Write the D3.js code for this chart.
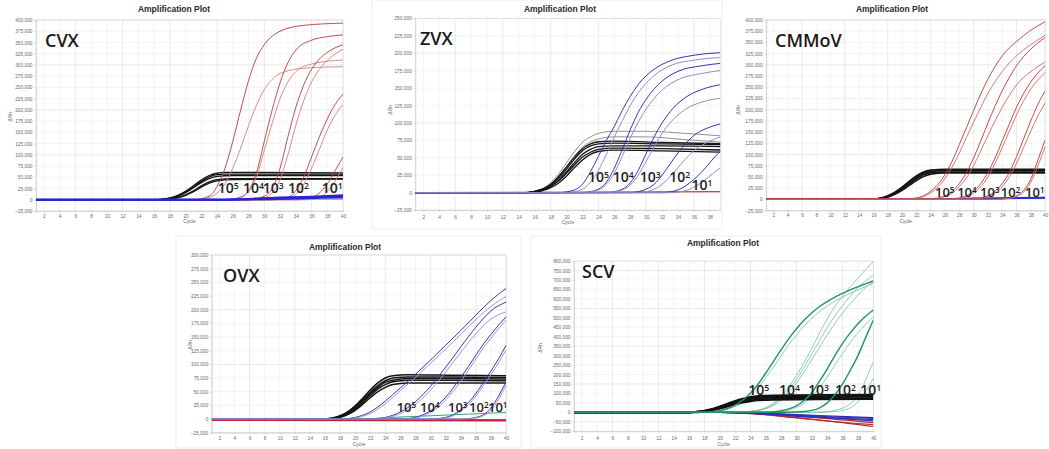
<!DOCTYPE html>
<html><head><meta charset="utf-8">
<script src="https://cdn.jsdelivr.net/npm/d3@7"></script>
<style>body{margin:0;background:#fff} svg{display:block}</style>
</head><body><svg id="c" width="1049" height="449"></svg>
<script>
// ---------------- DATA (ΔRn in thousands, by cycle) ----------------
const cycleTicks = [2,4,6,8,10,12,14,16,18,20,22,24,26,28,30,32,34,36,38,40];

// CVX
const cvxBlack = [
 [[1,0],[16,0],[17,1],[18,4],[19,10],[20,19],[21,31],[22,44],[23,54],[24,59],[25,61],[27,61],[40,60]],
 [[1,0],[16,0],[17,1],[18,3],[19,8],[20,17],[21,28],[22,41],[23,51],[24,56],[25,57],[27,57],[40,57]],
 [[1,0],[16,0],[17,1],[18,3],[19,8],[20,16],[21,27],[22,38],[23,47],[24,52],[26,54],[40,54]],
 [[1,0],[17,0],[18,2],[19,5],[20,11],[21,20],[22,31],[23,40],[24,45],[26,47],[40,47]],
 [[1,0],[17,0],[18,2],[19,5],[20,10],[21,18],[22,28],[23,37],[24,42],[26,45],[40,46]]
];
const cvxRed = [
 [[1,0],[21,0],[23,8],[24,30],[25,70],[26,130],[27,200],[28,265],[29,315],[30,345],[32,375],[35,388],[40,393]],
 [[1,0],[21,0],[23,5],[24,15],[25,35],[26,70],[27,115],[28,165],[29,210],[30,245],[31,268],[33,287],[36,294],[40,296]],
 [[1,0],[25,0],[27,6],[28,20],[29,60],[30,130],[31,200],[32,260],[33,305],[34,333],[36,355],[38,363],[40,367]],
 [[1,0],[25,0],[27,5],[28,18],[29,50],[30,110],[31,170],[32,225],[33,262],[34,285],[36,302],[40,311]],
 [[1,0],[28,0],[30,8],[31,25],[32,70],[33,140],[34,205],[35,255],[36,290],[37,313],[38,328],[40,345]],
 [[1,0],[28,0],[30,5],[31,15],[32,45],[33,100],[34,165],[35,220],[36,262],[37,290],[38,310],[40,335]],
 [[1,0],[31,0],[33,5],[34,20],[35,50],[36,95],[37,140],[38,180],[39,212],[40,235]],
 [[1,0],[31,0],[33,3],[34,12],[35,35],[36,70],[37,112],[38,155],[39,188],[40,212]],
 [[1,0],[34,0],[36,5],[37,15],[38,35],[39,65],[40,95]],
 [[1,0],[35,0],[37,5],[38,18],[39,42],[40,72]]
];
const cvxBlue = [
 [[1,0],[24,0],[28,2],[32,4],[36,6],[40,8]],
 [[1,0],[24,0],[28,2],[32,5],[36,7],[40,10]],
 [[1,0],[26,0],[30,1],[35,3],[40,5]]
];
const cvxLabels = [[24.1,15,"5"],[27.3,15,"4"],[29.8,15,"3"],[33.0,15,"2"],[37.3,15,"1"]];

// ZVX
const zvxBlack = [
 [[1,0],[15,0],[16,2],[17,5],[18,11],[19,21],[20,34],[21,48],[22,60],[23,67],[24,70],[26,71],[32,70],[40,69]],
 [[1,0],[15,0],[16,1],[17,4],[18,9],[19,18],[20,30],[21,43],[22,55],[23,62],[24,66],[26,67],[32,67],[40,66]],
 [[1,0],[15,0],[16,1],[17,4],[18,9],[19,17],[20,28],[21,40],[22,51],[23,58],[24,62],[26,64],[32,63],[40,61]],
 [[1,0],[16,0],[17,3],[18,7],[19,14],[20,24],[21,36],[22,47],[23,55],[24,59],[26,61],[32,60],[40,58]],
 [[1,0],[15,0],[16,2],[17,5],[18,12],[19,23],[20,37],[21,51],[22,63],[23,70],[24,73],[26,74],[32,72],[40,70]]
];
const zvxGray = [
 [[1,0],[15,0],[16,2],[17,6],[18,14],[19,27],[20,43],[21,59],[22,72],[23,80],[24,85],[26,88],[30,88],[35,85],[40,81]],
 [[1,0],[15,0],[16,2],[17,5],[18,12],[19,24],[20,38],[21,53],[22,65],[23,73],[24,77],[26,80],[30,80],[35,76],[40,72]]
];
const zvxBlue = [
 [[1,0],[19,0],[21,4],[22,12],[23,30],[24,52],[25,75],[26,95],[27,118],[28,138],[29,155],[31,177],[33,189],[36,197],[40,201]],
 [[1,0],[20,0],[22,5],[23,15],[24,32],[25,55],[26,80],[27,103],[28,125],[29,143],[31,168],[33,182],[36,190],[40,194]],
 [[1,0],[22,0],[24,5],[25,15],[26,35],[27,62],[28,90],[29,115],[30,134],[32,160],[34,174],[37,182],[40,186]],
 [[1,0],[22,0],[24,4],[25,12],[26,28],[27,52],[28,78],[29,101],[30,120],[32,147],[34,162],[37,171],[40,176]],
 [[1,0],[25,0],[27,5],[28,14],[29,32],[30,56],[31,80],[32,100],[33,116],[35,137],[37,148],[40,156]],
 [[1,0],[25,0],[27,4],[28,11],[29,25],[30,45],[31,66],[32,85],[33,100],[35,120],[37,130],[40,136]],
 [[1,0],[28,0],[30,5],[31,12],[32,25],[33,41],[34,57],[35,71],[36,82],[38,94],[40,100]],
 [[1,0],[29,0],[31,5],[32,12],[33,23],[34,36],[35,49],[36,60],[38,74],[40,82]],
 [[1,0],[32,0],[34,4],[35,10],[36,19],[37,30],[38,43],[39,56],[40,66]],
 [[1,0],[33,0],[35,3],[36,8],[37,15],[38,24],[39,33],[40,40]]
];
const zvxRed = [[[1,0],[40,1.5]]];
const zvxLabels = [[22.7,15,"5"],[25.8,15,"4"],[29.2,15,"3"],[32.9,15,"2"],[35.7,4,"1"]];

// CMMoV
const cmmovBlack = [
 [[1,0],[16,0],[17,3],[18,8],[19,16],[20,27],[21,40],[22,52],[23,61],[24,65],[26,67],[40,67]],
 [[1,0],[16,0],[17,2],[18,7],[19,15],[20,25],[21,37],[22,49],[23,58],[24,62],[26,64],[40,64]],
 [[1,0],[16,0],[17,2],[18,6],[19,13],[20,23],[21,35],[22,46],[23,55],[24,59],[26,61],[40,61]],
 [[1,0],[17,0],[18,5],[19,11],[20,20],[21,31],[22,42],[23,51],[24,56],[26,59],[40,59]]
];
const cmmovRed = [
 [[1,0],[20,0],[22,3],[23,8],[24,18],[25,33],[26,55],[27,85],[28,122],[29,160],[30,198],[31,235],[32,268],[33,296],[34,320],[36,352],[38,377],[40,396]],
 [[1,0],[20,0],[22,2],[23,6],[24,14],[25,27],[26,46],[27,72],[28,103],[29,138],[30,172],[31,205],[32,236],[33,262],[34,285],[36,320],[38,345],[40,366]],
 [[1,0],[23,0],[25,3],[26,8],[27,18],[28,35],[29,60],[30,92],[31,130],[32,170],[33,208],[34,242],[35,272],[36,298],[38,335],[40,361]],
 [[1,0],[23,0],[25,2],[26,6],[27,14],[28,28],[29,48],[30,75],[31,108],[32,142],[33,175],[34,205],[35,232],[36,255],[38,285],[40,306]],
 [[1,0],[26,0],[28,3],[29,8],[30,18],[31,35],[32,60],[33,92],[34,130],[35,168],[36,205],[37,236],[38,262],[40,298]],
 [[1,0],[26,0],[28,2],[29,6],[30,14],[31,28],[32,50],[33,80],[34,115],[35,152],[36,188],[37,220],[38,246],[40,283]],
 [[1,0],[29,0],[31,3],[32,8],[33,18],[34,35],[35,60],[36,95],[37,135],[38,175],[39,212],[40,242]],
 [[1,0],[29,0],[31,2],[32,6],[33,14],[34,28],[35,50],[36,80],[37,116],[38,152],[39,186],[40,215]],
 [[1,0],[33,0],[35,3],[36,8],[37,20],[38,45],[39,88],[40,132]],
 [[1,0],[33,0],[35,2],[36,6],[37,16],[38,38],[39,75],[40,117]]
];
const cmmovBlue = [
 [[1,0],[20,0],[30,2],[40,4]],
 [[1,0],[20,0],[30,1],[40,3]]
];
const cmmovLabels = [[24.6,6,"5"],[27.7,6,"4"],[30.9,6,"3"],[33.8,6,"2"],[37.2,6,"1"]];

// OVX
const ovxBlack = [
 [[1,0],[16,0],[17,2],[18,6],[19,13],[20,24],[21,38],[22,53],[23,66],[24,75],[25,79],[27,81],[33,80],[40,79]],
 [[1,0],[16,0],[17,2],[18,5],[19,12],[20,22],[21,35],[22,49],[23,61],[24,70],[25,75],[27,77],[33,77],[40,76]],
 [[1,0],[16,0],[17,1],[18,5],[19,11],[20,21],[21,33],[22,46],[23,58],[24,67],[25,71],[27,74],[33,74],[40,73]],
 [[1,0],[17,0],[18,4],[19,9],[20,18],[21,30],[22,43],[23,55],[24,63],[25,68],[27,71],[33,71],[40,70]],
 [[1,0],[17,0],[18,3],[19,8],[20,16],[21,27],[22,39],[23,50],[24,58],[25,63],[27,66],[33,66],[40,66]]
];
const ovxBlue = [
 [[1,0],[18,0],[20,3],[21,7],[22,13],[23,22],[24,33],[25,45],[26,57],[27,69],[28,82],[30,108],[32,135],[34,162],[36,190],[38,217],[40,239]],
 [[1,0],[18,0],[20,2],[21,5],[22,10],[23,18],[24,28],[25,40],[26,52],[27,64],[28,76],[30,102],[32,128],[34,155],[36,182],[38,206],[40,224]],
 [[1,0],[22,0],[24,3],[25,7],[26,13],[27,21],[28,32],[29,45],[30,60],[31,77],[32,95],[33,113],[34,132],[36,168],[38,198],[40,214]],
 [[1,0],[22,0],[24,2],[25,5],[26,10],[27,17],[28,27],[29,39],[30,53],[31,69],[32,86],[33,104],[34,122],[36,156],[38,183],[40,196]],
 [[1,0],[26,0],[28,3],[29,8],[30,15],[31,26],[32,40],[33,57],[34,76],[35,96],[36,117],[37,137],[38,155],[40,187]],
 [[1,0],[26,0],[28,2],[29,6],[30,12],[31,22],[32,35],[33,51],[34,69],[35,89],[36,110],[37,130],[38,148],[40,181]],
 [[1,0],[30,0],[32,3],[33,8],[34,17],[35,30],[36,47],[37,67],[38,88],[39,110],[40,135]],
 [[1,0],[30,0],[32,2],[33,6],[34,14],[35,26],[36,42],[37,61],[38,81],[39,103],[40,126]],
 [[1,0],[34,0],[36,3],[37,8],[38,20],[39,42],[40,68]],
 [[1,0],[34,0],[36,2],[37,6],[38,16],[39,36],[40,62]]
];
const ovxGreen = [[[1,0],[20,0],[25,3],[30,6],[35,9],[40,12]]];
const ovxRed = [[[1,-1],[20,-1.5],[40,-2]], [[1,-2],[40,-3]]];
const ovxLabels = [[25.5,13,"5"],[28.6,13,"4"],[32.3,13,"3"],[35.1,13,"2"],[37.6,13,"1"]];

// SCV
const scvBlack = [
 [[1,0],[16,0],[17,3],[18,8],[19,16],[20,28],[21,42],[22,56],[23,68],[24,76],[25,81],[27,84],[33,86],[40,88]],
 [[1,0],[16,0],[17,2],[18,7],[19,14],[20,25],[21,38],[22,51],[23,62],[24,70],[25,75],[27,78],[33,80],[40,82]],
 [[1,0],[16,0],[17,2],[18,6],[19,12],[20,22],[21,34],[22,46],[23,56],[24,63],[25,68],[27,71],[33,73],[40,75]],
 [[1,0],[17,0],[18,5],[19,10],[20,19],[21,30],[22,41],[23,51],[24,58],[25,63],[27,66],[33,68],[40,70]],
 [[1,0],[16,0],[17,3],[18,9],[19,18],[20,31],[21,46],[22,61],[23,73],[24,82],[25,87],[27,90],[33,92],[40,94]]
];
const scvGreenBold = [
 [[1,0],[18,0],[19,3],[20,9],[21,20],[22,38],[23,65],[24,102],[25,150],[26,208],[27,270],[28,332],[29,390],[30,442],[31,488],[32,527],[33,560],[35,610],[37,648],[39,680],[40,695]],
 [[1,0],[26,0],[27,3],[28,8],[29,18],[30,35],[31,62],[32,105],[33,165],[34,230],[35,300],[36,365],[37,420],[38,468],[39,508],[40,541]],
 [[1,0],[29,0],[31,4],[32,10],[33,24],[34,50],[35,92],[36,150],[37,222],[38,300],[39,395],[40,488]]
];
const scvGreenThin = [
 [[1,0],[18,0],[19,2],[20,7],[21,16],[22,31],[23,54],[24,87],[25,130],[26,182],[27,240],[28,300],[29,358],[30,410],[31,457],[32,498],[33,533],[35,588],[37,630],[39,665],[40,683]],
 [[1,0],[22,0],[24,5],[25,12],[26,25],[27,48],[28,85],[29,135],[30,195],[31,265],[32,340],[33,420],[34,495],[35,560],[36,615],[37,665],[38,710],[39,755],[40,797]],
 [[1,0],[22,0],[24,4],[25,10],[26,22],[27,42],[28,75],[29,120],[30,175],[31,240],[32,308],[33,380],[34,448],[35,510],[36,565],[37,615],[38,660],[39,695],[40,726]],
 [[1,0],[22,0],[24,4],[25,9],[26,19],[27,36],[28,65],[29,105],[30,155],[31,215],[32,280],[33,345],[34,410],[35,470],[36,525],[37,575],[38,620],[39,660],[40,691]],
 [[1,0],[26,0],[28,5],[29,12],[30,26],[31,48],[32,82],[33,130],[34,188],[35,250],[36,312],[37,370],[38,420],[39,466],[40,506]],
 [[1,0],[32,0],[34,4],[35,10],[36,22],[37,45],[38,90],[39,170],[40,268]],
 [[1,0],[33,0],[35,4],[36,10],[37,24],[38,55],[39,110],[40,180]]
];
const scvBlueNeg = [
 [[1,0],[20,0],[25,-5],[30,-15],[35,-25],[40,-32]],
 [[1,0],[20,0],[26,-8],[32,-22],[40,-45]],
 [[1,0],[21,0],[27,-7],[33,-18],[40,-28]],
 [[1,0],[20,0],[26,-10],[32,-26],[40,-38]]
];
const scvRedNeg = [
 [[1,0],[20,0],[25,-10],[30,-30],[35,-50],[40,-65]],
 [[1,0],[22,0],[28,-20],[34,-45],[40,-75]],
 [[1,0],[20,0],[30,-20],[40,-55]]
];
const scvLabels = [[23.7,92,"5"],[27.7,92,"4"],[31.5,92,"3"],[35.0,92,"2"],[38.3,92,"1"]];

// ---------------- LAYOUT ----------------
const panels = [
 {name:"CVX", xr:[36,343], yr:[211,20], xd:[1,40], yd:[-25,400], ystep:25, xticks:cycleTicks,
  title:[174,12], nameXY:[45,47], ylab:[12,117], tickY:216, cycleY:223, lab:14, labels:cvxLabels,
  series:[
   {data:[[[1,0],[40,1]]], color:"#d88a9a", w:1},
   {data:cvxBlack, color:"#141414", w:1.3},
   {data:cvxRed, color:"#b53c3c", alt:"#d67f7f", w:0.9},
   {data:cvxBlue, color:"#2626d6", w:1.8}
  ]},
 {name:"ZVX", xr:[415.3,720.2], yr:[210.1,18.3], xd:[1,39.3], yd:[-25,250], ystep:25,
  xticks:cycleTicks.filter(d=>d<=38), frame:[372,0,722,229],
  title:[560,12], nameXY:[420,45], ylab:[392,110], tickY:217, cycleY:224, lab:14, labels:zvxLabels,
  series:[
   {data:zvxRed, color:"#d04040", w:1.2},
   {data:zvxGray, color:"#777", w:0.8},
   {data:zvxBlack, color:"#141414", w:1.3},
   {data:zvxBlue, color:"#3535b5", alt:"#8f8fc4", w:1}
  ]},
 {name:"CMMoV", xr:[766.2,1045.1], yr:[210.5,20], xd:[1,40], yd:[-25,400], ystep:25, xticks:cycleTicks,
  title:[892,12], nameXY:[775,47], ylab:[740,110], tickY:215, cycleY:223, lab:13, labels:cmmovLabels,
  series:[
   {data:cmmovBlue, color:"#2a2ad0", w:1.6},
   {data:cmmovBlack, color:"#141414", w:1.6},
   {data:cmmovRed, color:"#bd3838", alt:"#cf6a6a", w:0.9}
  ]},
 {name:"OVX", xr:[211.8,506.1], yr:[432.7,255], xd:[1,40], yd:[-25,300], ystep:25, xticks:cycleTicks,
  frame:[176,236,521,448],
  title:[345,250], nameXY:[223,282], ylab:[192,345], tickY:438, cycleY:446, lab:13, labels:ovxLabels,
  series:[
   {data:ovxRed, color:"#c2203c", w:1.8},
   {data:ovxGreen, color:"#3aa37a", w:1},
   {data:ovxBlack, color:"#141414", w:1.5},
   {data:ovxBlue, color:"#3a3aa8", alt:"#9a9ad0", w:1}
  ]},
 {name:"SCV", xr:[574,873.3], yr:[431.2,261.1], xd:[1,40], yd:[-100,800], ystep:50, xticks:cycleTicks,
  frame:[531,236,881,448],
  title:[723,246], nameXY:[582,278], ylab:[542,348], tickY:438, cycleY:446, lab:14, labels:scvLabels,
  series:[
   {data:scvRedNeg, color:"#b52828", w:1.2},
   {data:scvBlueNeg, color:"#2d2dba", w:1.2},
   {data:scvGreenThin, color:"#74c2a2", w:0.8},
   {data:scvBlack, color:"#111", w:1.8},
   {data:scvGreenBold, color:"#23916a", w:1.4}
  ]}
];

// ---------------- DRAW ----------------
const svg = d3.select("#c");
const fmt = d3.format(",");
const tickFont = "'Liberation Sans', Arial, sans-serif";

panels.forEach((p, pi) => {
  const g = svg.append("g");
  const x = d3.scaleLinear().domain(p.xd).range(p.xr);
  const y = d3.scaleLinear().domain(p.yd).range(p.yr);
  const yt = d3.range(p.yd[0], p.yd[1] + 0.001, p.ystep);
  const top = p.yr[1], bot = p.yr[0];

  if (p.frame) {
    const f = p.frame;
    g.append("rect").attr("x", f[0]).attr("y", f[1]).attr("width", f[2]-f[0]).attr("height", f[3]-f[1])
      .attr("fill", "none").attr("stroke", "#e8e8e8").attr("stroke-width", 0.8);
  }
  // grid
  g.append("g").selectAll("line").data(yt).join("line")
    .attr("x1", p.xr[0]).attr("x2", p.xr[1]).attr("y1", d => y(d)).attr("y2", d => y(d))
    .attr("stroke", (d,i) => i % 4 === 1 ? "#dcdcdc" : "#ececec").attr("stroke-width", 0.6);
  g.append("g").selectAll("line").data(p.xticks).join("line")
    .attr("y1", top).attr("y2", bot).attr("x1", d => x(d)).attr("x2", d => x(d))
    .attr("stroke", (d,i) => i % 3 === 2 ? "#dcdcdc" : "#ededed").attr("stroke-width", 0.6);
  g.append("rect").attr("x", p.xr[0]).attr("y", top).attr("width", p.xr[1]-p.xr[0]).attr("height", bot-top)
    .attr("fill", "none").attr("stroke", "#d0d0d0").attr("stroke-width", 0.6);

  // axes
  const ya = g.append("g").attr("transform", `translate(${p.xr[0]},0)`)
    .call(d3.axisLeft(y).tickValues(yt).tickFormat(d => fmt(d*1000)).tickSize(1.5).tickPadding(2));
  const xa = g.append("g").attr("transform", `translate(0,${bot})`)
    .call(d3.axisBottom(x).tickValues(p.xticks).tickFormat(d3.format("d")).tickSize(1.5).tickPadding(p.tickY - bot - 3));
  [ya, xa].forEach(a => {
    a.select(".domain").attr("stroke", "#c8c8c8").attr("stroke-width", 0.6);
    a.selectAll(".tick line").attr("stroke", "#bbb").attr("stroke-width", 0.5);
    a.selectAll("text").attr("fill", "#6a6a6a").style("font-family", tickFont).style("font-size", "4.8px");
  });

  // title, axis labels
  g.append("text").attr("x", p.title[0]).attr("y", p.title[1]).attr("text-anchor", "middle")
    .style("font-family", tickFont).style("font-weight", "bold").style("font-size", "8.5px")
    .attr("fill", "#2a2a2a").text("Amplification Plot");
  g.append("text").attr("transform", `translate(${p.ylab[0]},${p.ylab[1]}) rotate(-90)`)
    .attr("text-anchor", "middle").style("font-family", tickFont).style("font-size", "5px")
    .attr("fill", "#666").text("ΔRn");
  g.append("text").attr("x", (p.xr[0]+p.xr[1])/2).attr("y", p.cycleY).attr("text-anchor", "middle")
    .style("font-family", tickFont).style("font-size", "5px").attr("fill", "#666").text("Cycle");

  // clip + curves
  const cid = "clip" + pi;
  svg.append("clipPath").attr("id", cid).append("rect")
    .attr("x", p.xr[0]).attr("y", top).attr("width", p.xr[1]-p.xr[0]).attr("height", bot-top);
  const cg = g.append("g").attr("clip-path", `url(#${cid})`);
  const line = d3.line().x(d => x(d[0])).y(d => y(d[1])).curve(d3.curveMonotoneX);
  p.series.forEach(s => {
    cg.append("g").selectAll("path").data(s.data).join("path")
      .attr("d", line).attr("fill", "none")
      .attr("stroke", (d,i) => (s.alt && i % 2 === 1) ? s.alt : s.color)
      .attr("stroke-width", s.w).attr("stroke-linejoin", "round");
  });

  // virus name
  g.append("text").attr("x", p.nameXY[0]).attr("y", p.nameXY[1])
    .style("font-family", "'Open Sans', sans-serif").style("font-weight", 600).style("font-size", "18px")
    .attr("fill", "#1a1a1a").text(p.name);

  // dilution labels
  const lt = g.append("g").selectAll("text").data(p.labels).join("text")
    .attr("x", d => x(d[0])).attr("y", d => y(d[1]))
    .style("font-family", "'Open Sans', sans-serif").style("font-weight", 600)
    .style("font-size", p.lab + "px").attr("fill", "#1e1e1e");
  lt.append("tspan").text("10");
  lt.append("tspan").attr("dy", "-0.45em").style("font-size", "0.62em").text(d => d[2]);
});
</script></body></html>
